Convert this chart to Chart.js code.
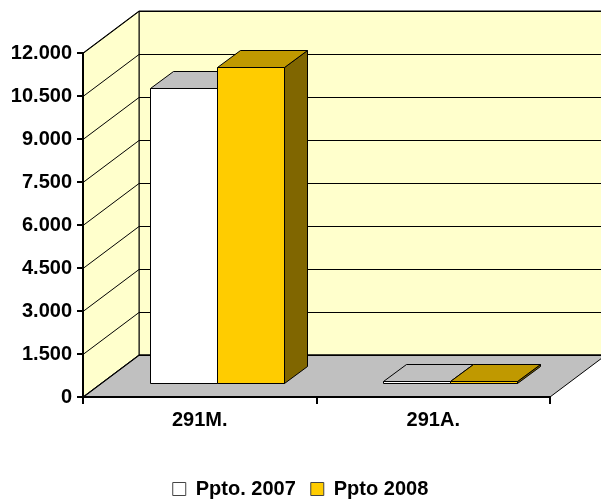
<!DOCTYPE html>
<html>
<head>
<meta charset="utf-8">
<script src="https://cdn.jsdelivr.net/npm/chart.js@4/dist/chart.umd.min.js"></script>
<style>
  html, body { margin: 0; padding: 0; background: #fff; }
  #wrap { width: 601px; height: 499px; }
</style>
</head>
<body>
<div id="wrap"><canvas id="chart"></canvas></div>
<script>
// data
const categories = ['291M.', '291A.'];
const seriesNames = ['Ppto. 2007', 'Ppto 2008'];
const ppto2007 = [10320, 95];
const ppto2008 = [11050, 105];
const yTicks = [0, 1500, 3000, 4500, 6000, 7500, 9000, 10500, 12000];

// 3D look: depth of the walls, bar offset and bar depth
const wallDx = 56, wallDy = -42;
const offDx = 17, offDy = -13;
const barDx = 23, barDy = -17;

const faceColors = [
    { front: '#FFFFFF', top: '#C0C0C0', side: '#808080' },
    { front: '#FFCC00', top: '#C09900', side: '#806600' }
];

function fmt(v) {
    return v.toString().replace(/\B(?=(\d{3})+(?!\d))/g, '.');
}

function poly(ctx, pts, fill) {
    ctx.beginPath();
    ctx.moveTo(pts[0][0], pts[0][1]);
    for (let i = 1; i < pts.length; i++) ctx.lineTo(pts[i][0], pts[i][1]);
    ctx.closePath();
    ctx.fillStyle = fill;
    ctx.fill();
    ctx.stroke();
}

// walls, floor, grid lines and the 3D bars
const walls = {
    id: 'walls',
    afterLayout(chart) {
        // push the legend row down a bit
        chart.legend.top += 10;
        chart.legend.bottom += 10;
    },
    beforeDraw(chart) {
        const { ctx, chartArea: a, scales: { y } } = chart;
        const top = y.getPixelForValue(yTicks[yTicks.length - 1]);
        const bot = y.getPixelForValue(0);
        ctx.save();
        ctx.strokeStyle = '#000';
        ctx.lineWidth = 1;
        // back wall
        poly(ctx, [[a.left + wallDx, top + wallDy], [a.right + wallDx, top + wallDy],
                   [a.right + wallDx, bot + wallDy], [a.left + wallDx, bot + wallDy]], '#FFFFCC');
        // side wall
        poly(ctx, [[a.left, top], [a.left + wallDx, top + wallDy],
                   [a.left + wallDx, bot + wallDy], [a.left, bot]], '#FFFFCC');
        // floor
        poly(ctx, [[a.left, bot], [a.left + wallDx, bot + wallDy],
                   [a.right + wallDx, bot + wallDy], [a.right, bot]], '#C0C0C0');
        // grid lines
        ctx.beginPath();
        yTicks.forEach(v => {
            const py = Math.round(y.getPixelForValue(v)) + 0.5;
            ctx.moveTo(a.left, py);
            ctx.lineTo(a.left + wallDx, py + wallDy);
            ctx.lineTo(a.right + wallDx, py + wallDy);
        });
        ctx.stroke();
        ctx.restore();
    },
    beforeDatasetsDraw(chart) {
        const { ctx } = chart;
        ctx.save();
        ctx.strokeStyle = '#000';
        ctx.lineWidth = 1;
        categories.forEach((c, i) => {
            chart.data.datasets.forEach((ds, d) => {
                const bar = chart.getDatasetMeta(d).data[i];
                const col = faceColors[d];
                const L = Math.round(bar.x - bar.width / 2 + offDx) + 0.5;
                const R = Math.round(bar.x + bar.width / 2 + offDx) + 0.5;
                const T = Math.round(bar.y + offDy) + 0.5;
                const B = Math.round(bar.base + offDy) + 0.5;
                poly(ctx, [[R, T], [R + barDx, T + barDy], [R + barDx, B + barDy], [R, B]], col.side);
                poly(ctx, [[L, T], [L + barDx, T + barDy], [R + barDx, T + barDy], [R, T]], col.top);
                poly(ctx, [[L, T], [R, T], [R, B], [L, B]], col.front);
            });
        });
        ctx.restore();
        return false;
    }
};

const font = { family: '"Liberation Sans", Arial, sans-serif', size: 20, weight: 'bold' };

new Chart(document.getElementById('chart'), {
    type: 'bar',
    data: {
        labels: categories,
        datasets: [
            { label: seriesNames[0], data: ppto2007, backgroundColor: '#FFFFFF', borderColor: '#444', borderWidth: 1 },
            { label: seriesNames[1], data: ppto2008, backgroundColor: '#FFCC00', borderColor: '#444', borderWidth: 1 }
        ]
    },
    options: {
        responsive: true,
        maintainAspectRatio: false,
        animation: false,
        categoryPercentage: 0.574,
        barPercentage: 1,
        layout: { padding: { left: 0, top: 53, right: 0, bottom: 0 } },
        plugins: {
            legend: {
                position: 'bottom',
                labels: { boxWidth: 13, boxHeight: 13, padding: 15, color: '#000', font: font }
            },
            tooltip: { enabled: false }
        },
        scales: {
            x: {
                grid: { drawOnChartArea: false, color: '#000', lineWidth: 2, tickLength: 7 },
                border: { color: '#000', width: 2 },
                ticks: { color: '#000', font: font, padding: 4 },
                afterFit: s => { s.height = 57; }
            },
            y: {
                min: 0,
                max: 12000,
                afterBuildTicks: s => { s.ticks = yTicks.map(v => ({ value: v })); },
                grid: { drawOnChartArea: false, color: '#000', lineWidth: 2, tickLength: 6 },
                border: { color: '#000', width: 2 },
                ticks: { color: '#000', font: font, padding: 5, callback: v => fmt(v) },
                afterFit: s => { s.width = 83; }
            },
            // empty space on the right for the receding floor
            spacer: {
                position: 'right',
                grid: { display: false },
                border: { display: false },
                ticks: { display: false },
                afterFit: s => { s.width = 51; }
            }
        }
    },
    plugins: [walls]
});
</script>
</body>
</html>
